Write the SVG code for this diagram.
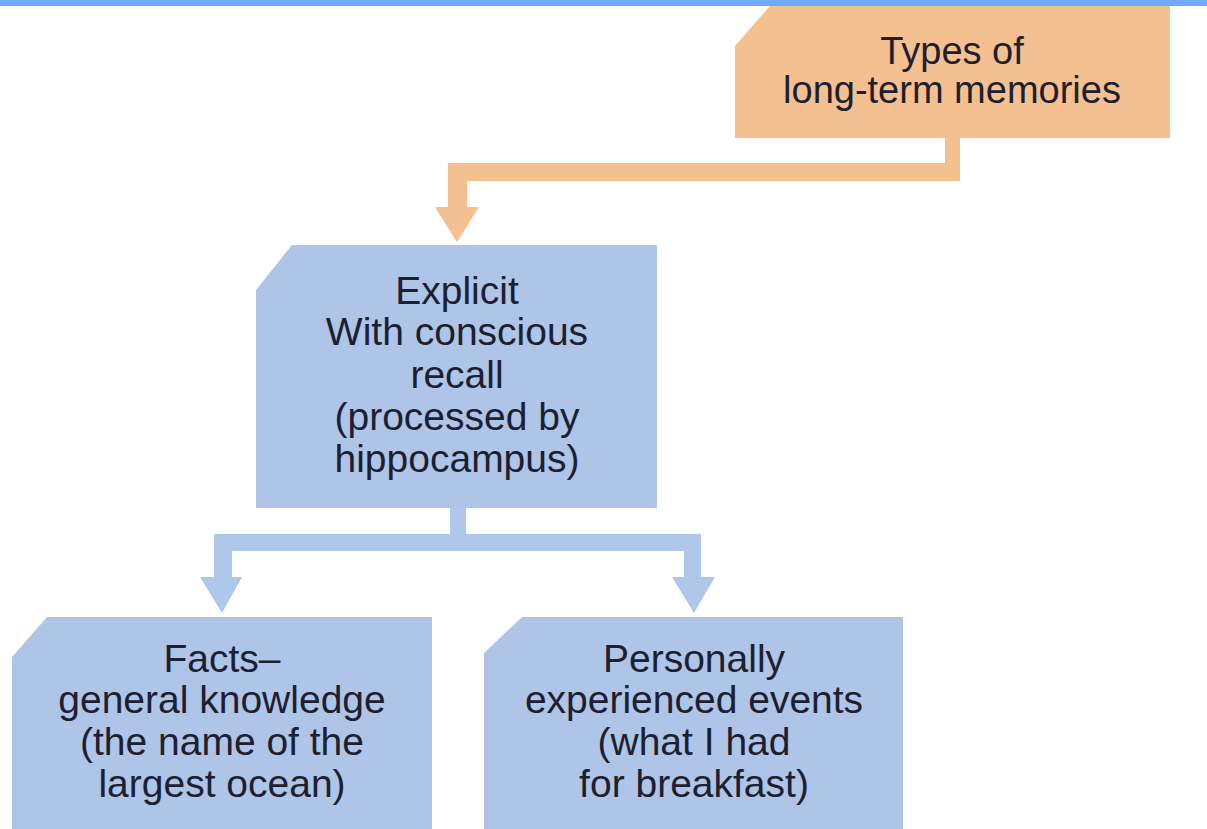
<svg xmlns="http://www.w3.org/2000/svg" width="1207" height="829" viewBox="0 0 1207 829">
<style>
text{font-family:"Liberation Sans",Arial,sans-serif;font-size:39px;fill:#1c2030;text-anchor:middle}
.orange{fill:#f5c08f}
.blue{fill:#aec5e8}
.conn-blue{fill:#afc7ea}
.small{font-size:38px}
</style>
<rect x="0" y="0" width="1207" height="829" fill="#ffffff"/>
<g id="connectors">
<path class="orange" d="M945,130 H960 V181 H467 V207 H479 L457,242 L435,207 H448 V163 H945 Z"/>
<path class="conn-blue" d="M450,500 H466 V534 H701 V577 H715 L694,613 L672,577 H684 V551 H232 V577 H242 L222,613 L200,577 H214 V534 H450 Z"/>
</g>
<g id="node-types">
<polygon class="orange" points="775,0 1170,0 1170,138 735,138 735,46"/>
<text class="small" x="952" y="64">Types of</text>
<text class="small" x="952" y="103">long-term memories</text>
</g>
<g id="node-explicit">
<polygon class="blue" points="292,245 657,245 657,508 256,508 256,290"/>
<text x="457" y="304">Explicit</text>
<text x="457" y="345">With conscious</text>
<text x="457" y="388">recall</text>
<text x="457" y="430">(processed by</text>
<text x="457" y="472">hippocampus)</text>
</g>
<g id="node-facts">
<polygon class="blue" points="47,617 432,617 432,829 12,829 12,657"/>
<text x="222" y="672">Facts–</text>
<text x="222" y="713">general knowledge</text>
<text x="222" y="755">(the name of the</text>
<text x="222" y="797">largest ocean)</text>
</g>
<g id="node-events">
<polygon class="blue" points="522,617 903,617 903,829 484,829 484,653"/>
<text x="694" y="672">Personally</text>
<text x="694" y="713">experienced events</text>
<text x="694" y="755">(what I had</text>
<text x="694" y="797">for breakfast)</text>
</g>
<rect id="top-bar" x="0" y="0" width="1207" height="6" fill="#70aaf8"/>
</svg>
